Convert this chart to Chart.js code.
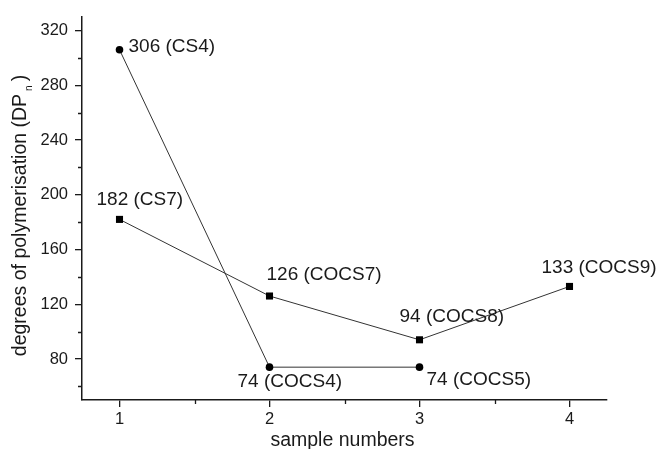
<!DOCTYPE html>
<html><head><meta charset="utf-8">
<script src="https://cdn.jsdelivr.net/npm/chart.js@4/dist/chart.umd.min.js"></script>
<style>html,body{margin:0;padding:0;background:#fff}</style>
</head><body>
<canvas id="c" width="658" height="449"></canvas>
<script>
// ---- data ----
const csSamples = ['CS4', 'COCS4', 'COCS5'];
const csX = [1, 2, 3];
const csDP = [306, 74, 74];
const cocsSamples = ['CS7', 'COCS7', 'COCS8', 'COCS9'];
const cocsX = [1, 2, 3, 4];
const cocsDP = [182, 126, 94, 133];
const xTicks = [1, 2, 3, 4];
const xMinorTicks = [1.5, 2.5, 3.5];
const yTicks = [80, 120, 160, 200, 240, 280, 320];
const yMinorTicks = [60, 100, 140, 180, 220, 260, 300];
const xTitle = 'sample numbers';
const yTitle = 'degrees of polymerisation (DP';
const yTitleSub = 'n';
const yTitleEnd = ')';

// ---- styling ----
const FONT = "'Liberation Sans', Arial, sans-serif";
const INK = '#1a1a1a';
const LABEL_SIZE = 19;
const TITLE_SIZE = 19.5;
const TICK_SIZE = 16.5;
const csLabelOffsets = [[9, -3], [-32, 15], [7, 12.5]];
const cocsLabelOffsets = [[-23, -20], [-3, -21], [-20, -23], [-28, -19]];

const toPts = (xs, ys) => xs.map((x, i) => ({x: x, y: ys[i]}));

const extras = {
  id: 'extras',
  afterDraw(chart) {
    const ctx = chart.ctx;
    const xs = chart.scales.x, ys = chart.scales.y;
    const area = chart.chartArea;
    ctx.save();
    // minor ticks
    ctx.strokeStyle = INK;
    ctx.lineWidth = 1.3;
    ctx.beginPath();
    xMinorTicks.forEach(v => {
      const px = Math.round(xs.getPixelForValue(v)) + 0.5;
      ctx.moveTo(px, area.bottom); ctx.lineTo(px, area.bottom + 4);
    });
    yMinorTicks.forEach(v => {
      const py = Math.round(ys.getPixelForValue(v)) + 0.5;
      ctx.moveTo(area.left - 4, py); ctx.lineTo(area.left, py);
    });
    ctx.stroke();

    // axis titles
    ctx.fillStyle = INK;
    ctx.font = TITLE_SIZE + 'px ' + FONT;
    ctx.textAlign = 'center';
    ctx.textBaseline = 'alphabetic';
    ctx.fillText(xTitle, (area.left + area.right) / 2 - 2, 446);

    ctx.save();
    ctx.translate(26, 215.5);
    ctx.rotate(-Math.PI / 2);
    ctx.textAlign = 'left';
    ctx.font = TITLE_SIZE + 'px ' + FONT;
    const w1 = ctx.measureText(yTitle).width;
    const w3 = ctx.measureText(yTitleEnd).width;
    ctx.font = '10px ' + FONT;
    const wn = ctx.measureText(yTitleSub).width;
    const total = w1 + 3 + wn + 4 + w3;
    let sx = -total / 2;
    ctx.font = TITLE_SIZE + 'px ' + FONT;
    ctx.fillText(yTitle, sx, 0);
    sx += w1 + 3;
    ctx.font = '10px ' + FONT;
    ctx.fillText(yTitleSub, sx, 6);
    sx += wn + 4;
    ctx.font = TITLE_SIZE + 'px ' + FONT;
    ctx.fillText(yTitleEnd, sx, 0);
    ctx.restore();

    // data labels
    ctx.font = LABEL_SIZE + 'px ' + FONT;
    ctx.textAlign = 'left';
    ctx.textBaseline = 'middle';
    ctx.fillStyle = INK;
    const sets = [[csSamples, csDP, csLabelOffsets], [cocsSamples, cocsDP, cocsLabelOffsets]];
    sets.forEach((s, di) => {
      const meta = chart.getDatasetMeta(di);
      meta.data.forEach((el, i) => {
        const off = s[2][i];
        ctx.fillText(s[1][i] + ' (' + s[0][i] + ')', el.x + off[0], el.y + off[1]);
      });
    });
    ctx.restore();
  }
};

new Chart(document.getElementById('c'), {
  type: 'scatter',
  data: {
    datasets: [
      {
        label: 'CS series',
        data: toPts(csX, csDP),
        showLine: true,
        borderColor: '#333',
        borderWidth: 1,
        backgroundColor: '#000',
        pointBackgroundColor: '#000',
        pointBorderWidth: 0,
        pointStyle: 'circle',
        pointRadius: 3.8,
        tension: 0
      },
      {
        label: 'COCS series',
        data: toPts(cocsX, cocsDP),
        showLine: true,
        borderColor: '#333',
        borderWidth: 1,
        backgroundColor: '#000',
        pointBackgroundColor: '#000',
        pointBorderWidth: 0,
        pointStyle: 'rect',
        pointRadius: 5,
        tension: 0
      }
    ]
  },
  options: {
    responsive: false,
    devicePixelRatio: 1,
    animation: false,
    layout: {padding: {top: 13, right: 51, left: 0, bottom: 0}},
    plugins: {legend: {display: false}, tooltip: {enabled: false}},
    scales: {
      x: {
        type: 'linear',
        min: 0.75, max: 4.25,
        afterBuildTicks: s => { s.ticks = xTicks.map(v => ({value: v})); },
        afterFit: s => { s.height = 49; },
        grid: {display: true, drawOnChartArea: false, drawTicks: true, tickLength: 7, color: INK, lineWidth: 1.3},
        border: {display: true, color: INK, width: 1.5},
        ticks: {font: {family: FONT, size: TICK_SIZE}, color: INK, padding: 3, maxRotation: 0, autoSkip: false}
      },
      y: {
        type: 'linear',
        min: 50, max: 330,
        afterBuildTicks: s => { s.ticks = yTicks.map(v => ({value: v})); },
        afterFit: s => { s.width = 82; },
        grid: {display: true, drawOnChartArea: false, drawTicks: true, tickLength: 7, color: INK, lineWidth: 1.3},
        border: {display: true, color: INK, width: 1.5},
        ticks: {font: {family: FONT, size: TICK_SIZE}, color: INK, padding: 7, autoSkip: false}
      }
    }
  },
  plugins: [extras]
});
</script>
</body></html>
